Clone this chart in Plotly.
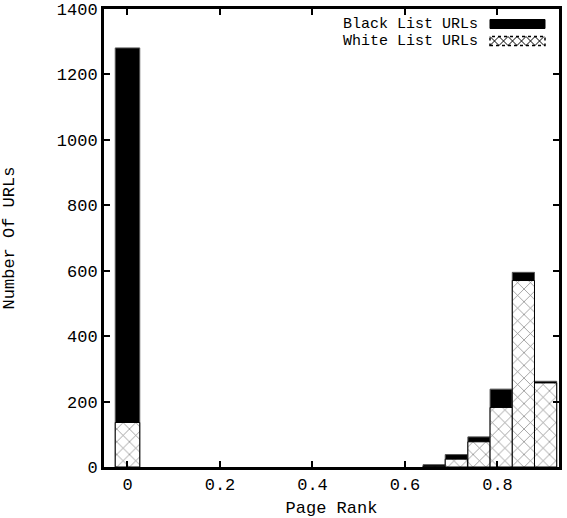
import plotly.graph_objects as go

page_rank = [0.0, 0.663, 0.711, 0.760, 0.808, 0.856, 0.904]
bar_width = [0.053, 0.048, 0.048, 0.048, 0.048, 0.048, 0.048]
black_list = [1281, 7, 38, 92, 238, 595, 262]
white_list = [136, 2, 24, 77, 182, 570, 257]

x_ticks = [0, 0.2, 0.4, 0.6, 0.8]
x_tick_labels = ["0", "0.2", "0.4", "0.6", "0.8"]
y_ticks = [0, 200, 400, 600, 800, 1000, 1200, 1400]
legend_names = ["Black List URLs", "White List URLs"]

FAM = "Liberation Mono, Courier New, monospace"
font = dict(family=FAM, size=17, color="black")
legend_font = dict(family=FAM, size=15, color="black")

fig = go.Figure()
fig.add_trace(go.Bar(
    x=page_rank, y=black_list, width=bar_width, name=legend_names[0],
    marker=dict(color="black", line=dict(color="#555", width=1)),
))
fig.add_trace(go.Bar(
    x=page_rank, y=white_list, width=bar_width, name=legend_names[1],
    marker=dict(color="white", line=dict(color="black", width=1),
                pattern=dict(shape="x", fgcolor="black", bgcolor="white", size=9, solidity=0.15)),
))

# --- custom legend (text left of swatch, as in the reference) ---
L, R, T, B = 104, 559, 9, 467
def px(x):
    return (x - L) / (R - L)
def py(y):
    return (B - y) / (B - T)

shapes = []
annotations = []
rows = [(19.5, 28.5), (36.5, 45.5)]
for i, (name, (yt, yb)) in enumerate(zip(legend_names, rows)):
    annotations.append(dict(
        x=px(480), y=py((yt + yb) / 2 + 0.5), xref="paper", yref="paper",
        xanchor="right", yanchor="middle", text=name, showarrow=False,
        font=legend_font,
    ))
    if i == 0:
        shapes.append(dict(type="rect", xref="paper", yref="paper",
                           x0=px(490), x1=px(545), y0=py(yb), y1=py(yt),
                           fillcolor="black", line=dict(color="black", width=1)))
    else:
        shapes.append(dict(type="rect", xref="paper", yref="paper",
                           x0=px(490), x1=px(545), y0=py(yb), y1=py(yt),
                           fillcolor="white", line=dict(color="black", width=1.5, dash="dot")))
        h = yb - yt
        path = ""
        xs = 490
        while xs + h <= 545.5:
            path += f"M{px(xs)},{py(yt)} L{px(xs + h)},{py(yb)} M{px(xs + h)},{py(yt)} L{px(xs)},{py(yb)} "
            xs += h
        shapes.append(dict(type="path", xref="paper", yref="paper", path=path,
                           line=dict(color="black", width=1)))

fig.update_layout(
    width=567, height=518,
    margin=dict(l=104, r=8, t=9, b=51, autoexpand=False),
    barmode="overlay",
    plot_bgcolor="white", paper_bgcolor="white",
    font=font,
    showlegend=False,
    shapes=shapes,
    annotations=annotations,
    xaxis=dict(
        range=[-0.0508, 0.933], tickvals=x_ticks, ticktext=x_tick_labels,
        ticks="inside", ticklen=6, tickwidth=2, tickcolor="black",
        showline=True, linewidth=3, linecolor="black", mirror="ticks",
        showgrid=False, zeroline=False, automargin=False,
        title=dict(text="Page Rank", font=font),
    ),
    yaxis=dict(
        range=[0, 1400], tickvals=y_ticks,
        ticks="inside", ticklen=6, tickwidth=2, tickcolor="black",
        showline=True, linewidth=3, linecolor="black", mirror="ticks",
        showgrid=False, zeroline=False, automargin=False,
        title=dict(text="Number Of URLs", font=font, standoff=48),
    ),
)

fig.write_html("out.html", post_script="document.body.style.margin='0';",
               config={"displayModeBar": False})
